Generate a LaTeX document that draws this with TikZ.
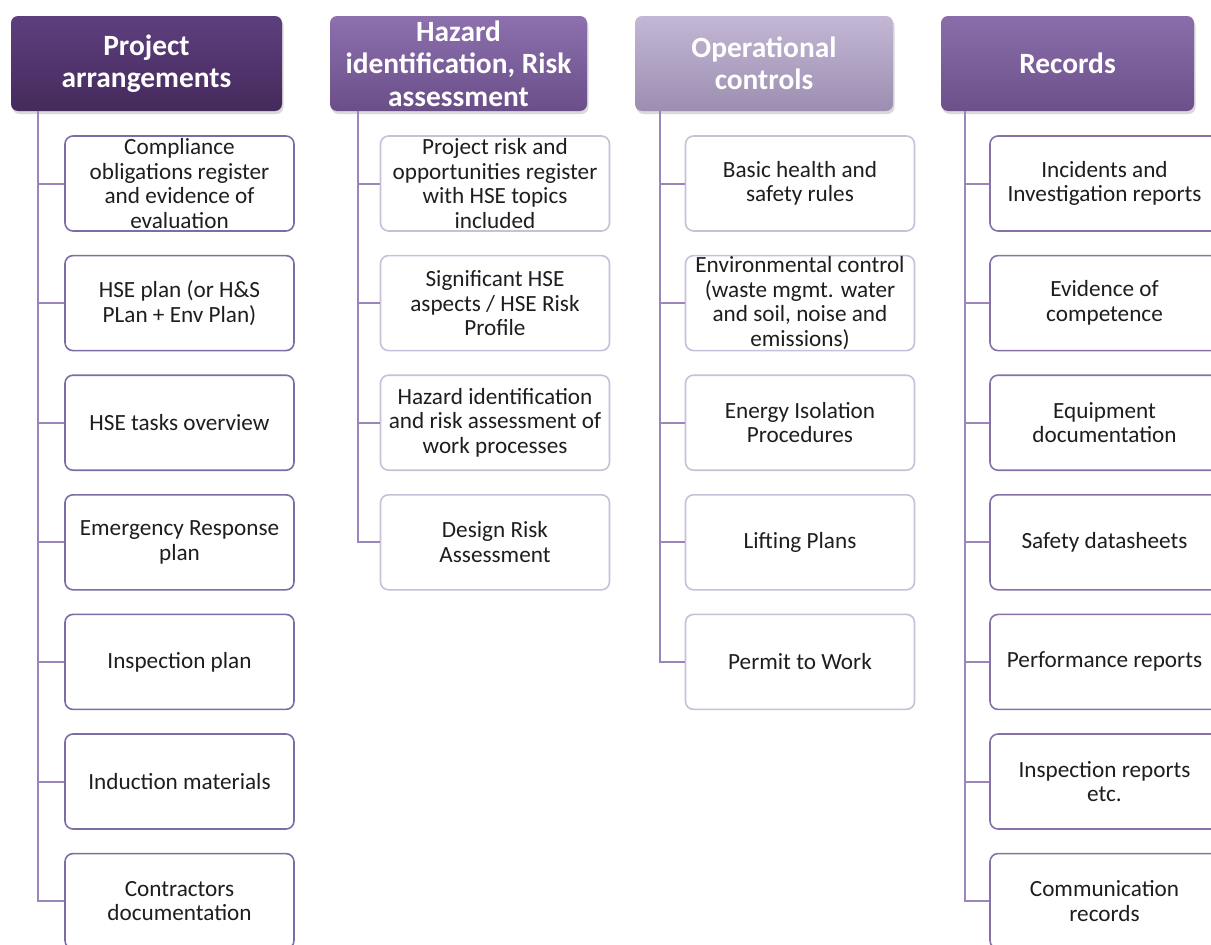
\documentclass[tikz,border=0pt]{standalone}
\usepackage{fontspec}
\setmainfont{Carlito}
\usetikzlibrary{shadows}
\definecolor{linec}{HTML}{9A86BB}
\definecolor{bdark}{HTML}{7E6CA6}
\definecolor{blight}{HTML}{C9BFDB}
\definecolor{bmid}{HTML}{8572A9}
\definecolor{txtc}{HTML}{1E1E1E}
\definecolor{hAt}{HTML}{5E3F7E}\definecolor{hAb}{HTML}{452A5C}
\definecolor{hBt}{HTML}{8D71AF}\definecolor{hBb}{HTML}{6A4E88}
\definecolor{hCt}{HTML}{C3B7D5}\definecolor{hCb}{HTML}{9C8EB0}
\definecolor{hDt}{HTML}{8A6EAB}\definecolor{hDb}{HTML}{6C5089}
\tikzset{
  hdr/.style={rounded corners=7pt, minimum width=271pt, minimum height=95pt, inner sep=0pt,
    align=center, text=white, font=\fontsize{29.4}{32.5}\selectfont\bfseries,
    drop shadow={opacity=0.3, shadow xshift=1.5pt, shadow yshift=-3pt}},
  box/.style={draw, rounded corners=8pt, line width=1.6pt, fill=white,
    minimum width=229pt, minimum height=95pt, inner sep=0pt},
  txt/.style={align=center, text=txtc, inner sep=0pt, font=\fontsize{23.2}{24.6}\selectfont},
  conn/.style={draw=linec, line width=2pt},
}
\begin{document}
\begin{tikzpicture}[x=1pt, y=-1pt]
\useasboundingbox (0,0) rectangle (1211,945);
% headers
\node[hdr, top color=hAt, bottom color=hAb] (h1) at (146.5,63.5) {Project\\arrangements};
\node[hdr, minimum width=257pt, top color=hBt, bottom color=hBb] (h2) at (458.5,63.5) {Hazard\\identification, Risk\\assessment};
\node[hdr, minimum width=258pt, top color=hCt, bottom color=hCb] (h3) at (764,63.5) {Operational\\controls};
\node[hdr, minimum width=253pt, top color=hDt, bottom color=hDb] (h4) at (1067.5,63.5) {Records};
% trunk start points
\coordinate (t1) at (38,111);
\coordinate (t2) at (358,111);
\coordinate (t3) at (660,111);
\coordinate (t4) at (965,111);
% column 1
\node[box, draw=bdark] (a1) at (179.5,183.5) {};
\node[box, draw=bdark] (a2) at (179.5,303.1) {};
\node[box, draw=bdark] (a3) at (179.5,422.7) {};
\node[box, draw=bdark] (a4) at (179.5,542.3) {};
\node[box, draw=bdark] (a5) at (179.5,661.9) {};
\node[box, draw=bdark] (a6) at (179.5,781.5) {};
\node[box, draw=bdark] (a7) at (179.5,901.1) {};
% column 2
\node[box, draw=blight] (b1) at (495,183.5) {};
\node[box, draw=blight] (b2) at (495,303.1) {};
\node[box, draw=blight] (b3) at (495,422.7) {};
\node[box, draw=blight] (b4) at (495,542.3) {};
% column 3
\node[box, draw=blight] (c1) at (800,183.5) {};
\node[box, draw=blight] (c2) at (800,303.1) {};
\node[box, draw=blight] (c3) at (800,422.7) {};
\node[box, draw=blight] (c4) at (800,542.3) {};
\node[box, draw=blight] (c5) at (800,661.9) {};
% column 4
\node[box, draw=bmid] (d1) at (1104.5,183.5) {};
\node[box, draw=bmid] (d2) at (1104.5,303.1) {};
\node[box, draw=bmid] (d3) at (1104.5,422.7) {};
\node[box, draw=bmid] (d4) at (1104.5,542.3) {};
\node[box, draw=bmid] (d5) at (1104.5,661.9) {};
\node[box, draw=bmid] (d6) at (1104.5,781.5) {};
\node[box, draw=bmid] (d7) at (1104.5,901.1) {};
% connectors
\draw[conn] (t1) |- (a7.west);
\foreach \n in {a1,a2,a3,a4,a5,a6} \draw[conn] (t1 |- \n.west) -- (\n.west);
\draw[conn] (t2) |- (b4.west);
\foreach \n in {b1,b2,b3} \draw[conn] (t2 |- \n.west) -- (\n.west);
\draw[conn] (t3) |- (c5.west);
\foreach \n in {c1,c2,c3,c4} \draw[conn] (t3 |- \n.west) -- (\n.west);
\draw[conn] (t4) |- (d7.west);
\foreach \n in {d1,d2,d3,d4,d5,d6} \draw[conn] (t4 |- \n.west) -- (\n.west);
% texts
\node[txt] at (a1) {Compliance\\obligations register\\and evidence of\\evaluation};
\node[txt] at (a2) {HSE plan (or H\&S\\PLan + Env Plan)};
\node[txt] at (a3) {HSE tasks overview};
\node[txt] at (a4) {Emergency Response\\plan};
\node[txt] at (a5) {Inspection plan};
\node[txt] at (a6) {Induction materials};
\node[txt] at (a7) {Contractors\\documentation};
\node[txt] at (b1) {Project risk and\\opportunities register\\with HSE topics\\included};
\node[txt] at (b2) {Significant HSE\\aspects / HSE Risk\\Profile};
\node[txt] at (b3) {Hazard identification\\and risk assessment of\\work processes};
\node[txt] at (b4) {Design Risk\\Assessment};
\node[txt] at (c1) {Basic health and\\safety rules};
\node[txt] at (c2) {Environmental control\\(waste mgmt. water\\and soil, noise and\\emissions)};
\node[txt] at (c3) {Energy Isolation\\Procedures};
\node[txt] at (c4) {Lifting Plans};
\node[txt] at (c5) {Permit to Work};
\node[txt] at (d1) {Incidents and\\Investigation reports};
\node[txt] at (d2) {Evidence of\\competence};
\node[txt] at (d3) {Equipment\\documentation};
\node[txt] at (d4) {Safety datasheets};
\node[txt] at (d5) {Performance reports};
\node[txt] at (d6) {Inspection reports\\etc.};
\node[txt] at (d7) {Communication\\records};
\end{tikzpicture}
\end{document}
